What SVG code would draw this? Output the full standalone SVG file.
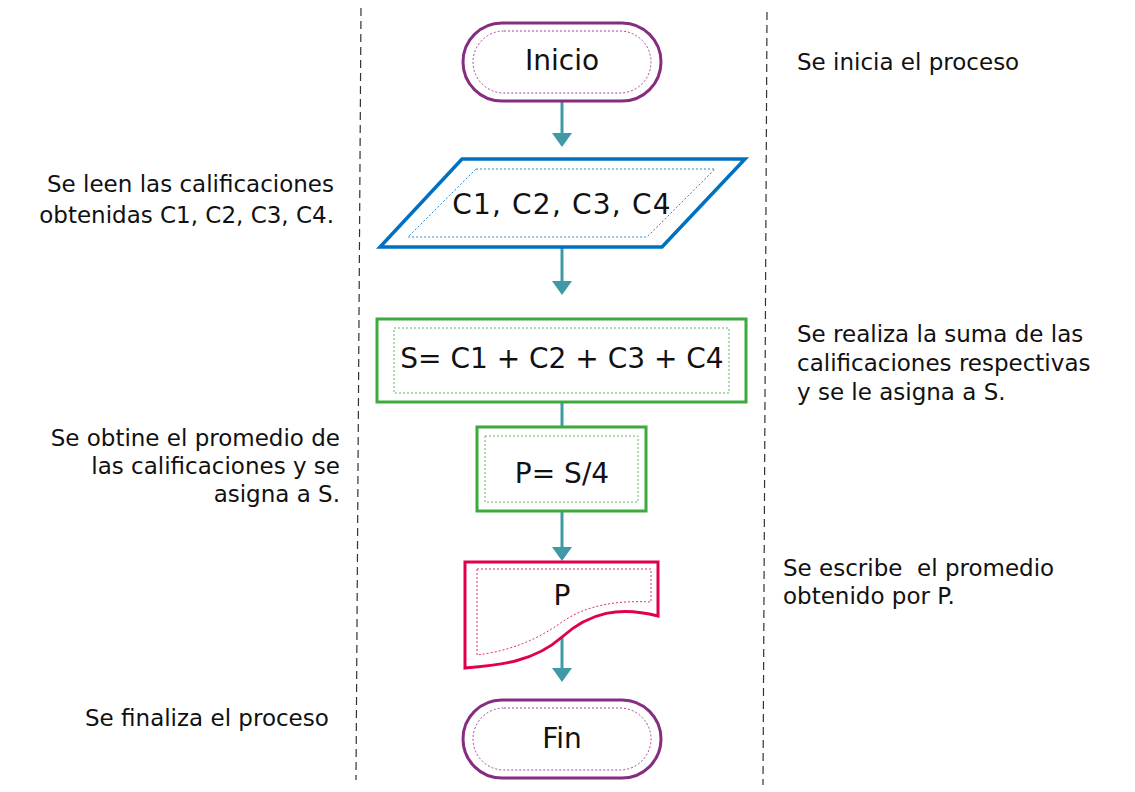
<svg xmlns="http://www.w3.org/2000/svg" width="1135" height="792" viewBox="0 0 1135 792">
<style>
.bg{fill:#ffffff}
.lane{stroke:#333333;stroke-width:1.2;stroke-dasharray:8,5;fill:none}
.term{fill:#ffffff;stroke:#862D82;stroke-width:3}
.termIn{fill:none;stroke:#A0479C;stroke-width:1;stroke-dasharray:2,2}
.io{fill:#ffffff;stroke:#0070C0;stroke-width:3.5}
.ioIn{fill:none;stroke:#2A8AD0;stroke-width:1;stroke-dasharray:2,2}
.proc{fill:#ffffff;stroke:#3CAA3C;stroke-width:3}
.procIn{fill:none;stroke:#5DBB5D;stroke-width:1;stroke-dasharray:2,2}
.doc{fill:#ffffff;stroke:#E0004D;stroke-width:3}
.docIn{fill:none;stroke:#E0306A;stroke-width:1;stroke-dasharray:2,2}
.edge{stroke:#3D9AA6;stroke-width:3;fill:none}
.head{fill:#3D9AA6}
.nt{font-family:"DejaVu Sans","Liberation Sans",sans-serif;font-size:28px;fill:#111111;text-anchor:middle}
.st{font-family:"DejaVu Sans","Liberation Sans",sans-serif;font-size:23px;fill:#111111;white-space:pre}
.r{text-anchor:end}
</style>
<rect class="bg" x="0" y="0" width="1135" height="792"/>
<g id="lanes">
<line class="lane" x1="361" y1="8" x2="356" y2="780"/>
<line class="lane" x1="767" y1="12" x2="763" y2="785"/>
</g>
<g id="connectors">
<line class="edge" x1="562" y1="101" x2="562" y2="134"/>
<path class="head" d="M552,133 L572,133 L562,147 Z"/>
<line class="edge" x1="562" y1="247" x2="562" y2="282"/>
<path class="head" d="M552,281 L572,281 L562,295 Z"/>
<line class="edge" x1="562" y1="402" x2="562" y2="427"/>
<line class="edge" x1="562" y1="511" x2="562" y2="548"/>
<path class="head" d="M552,547 L572,547 L562,561 Z"/>
<line class="edge" x1="562" y1="636" x2="562" y2="669"/>
<path class="head" d="M552,668 L572,668 L562,682 Z"/>
</g>
<g id="inicio">
<rect class="term" x="463" y="23" width="198" height="78" rx="39" ry="39"/>
<rect class="termIn" x="473" y="31" width="178" height="62" rx="31" ry="31"/>
<text class="nt" x="562" y="70">Inicio</text>
</g>
<g id="lectura">
<polygon class="io" points="462,159 745,159 662,247 380,247"/>
<polygon class="ioIn" points="476,169 715,169 647,237 408,237"/>
<text class="nt" x="562" y="214" style="letter-spacing:1.2px">C1, C2, C3, C4</text>
</g>
<g id="suma">
<rect class="proc" x="377" y="319" width="369" height="83"/>
<rect class="procIn" x="394" y="328" width="335" height="65"/>
<text class="nt" x="562" y="368">S= C1 + C2 + C3 + C4</text>
</g>
<g id="promedio">
<rect class="proc" x="477" y="427" width="169" height="84"/>
<rect class="procIn" x="485" y="436" width="153" height="66"/>
<text class="nt" x="562" y="483">P= S/4</text>
</g>
<g id="salida">
<path class="doc" d="M465,562 H658 V616 C620,606 590,612 562,637 C534,662 500,665 465,668 Z"/>
<path class="docIn" d="M477,569 H651 V602 C615,600 585,606 562,622 C530,645 500,652 477,655 Z"/>
<text class="nt" x="562" y="605">P</text>
</g>
<g id="fin">
<rect class="term" x="463" y="700" width="198" height="78" rx="39" ry="39"/>
<rect class="termIn" x="473" y="708" width="178" height="62" rx="31" ry="31"/>
<text class="nt" x="562" y="748">Fin</text>
</g>
<g id="notas">
<text class="st" x="797" y="70">Se inicia el proceso</text>
<text class="st r" x="334" y="192">Se leen las calificaciones</text>
<text class="st r" x="334" y="223">obtenidas C1, C2, C3, C4.</text>
<text class="st" x="797" y="342">Se realiza la suma de las</text>
<text class="st" x="797" y="371">calificaciones respectivas</text>
<text class="st" x="797" y="400">y se le asigna a S.</text>
<text class="st r" x="340" y="446">Se obtine el promedio de</text>
<text class="st r" x="340" y="474">las calificaciones y se</text>
<text class="st r" x="340" y="502">asigna a S.</text>
<text class="st" x="783" y="576">Se escribe  el promedio</text>
<text class="st" x="783" y="604">obtenido por P.</text>
<text class="st" x="85" y="726">Se finaliza el proceso</text>
</g>
</svg>
